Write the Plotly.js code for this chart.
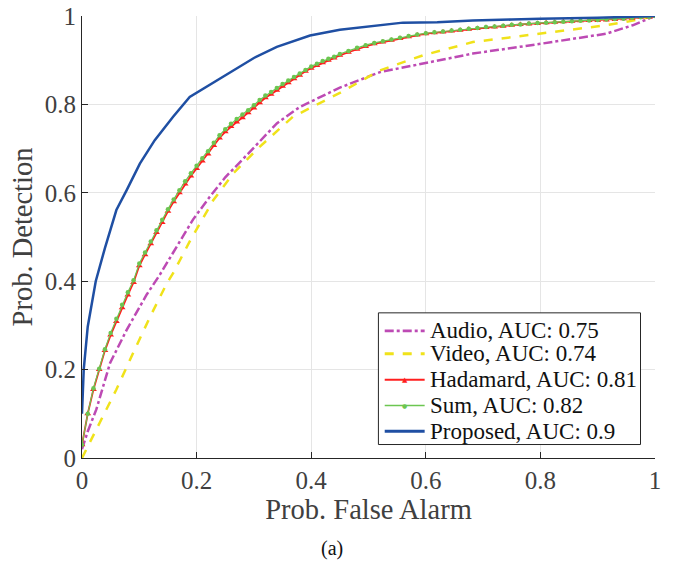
<!DOCTYPE html>
<html><head><meta charset="utf-8">
<script src="https://cdn.plot.ly/plotly-3.0.1.min.js"></script>
<style>body{margin:0;padding:0;background:#fff}#plot{width:673px;height:561px}</style>
</head><body><div id="plot"></div>
<script>
// Series names
var seriesNames = ["Audio, AUC: 0.75", "Video, AUC: 0.74", "Hadamard, AUC: 0.81", "Sum, AUC: 0.82", "Proposed, AUC: 0.9"];
var seriesColors = ["#BD4AB4", "#F0E21A", "#FF1F1F", "#6CC651", "#1F4FA3"];
var seriesDash = ["dashdot", "dash", "solid", "solid", "solid"];
var seriesWidth = [2.5, 2.5, 1.8, 1.2, 2.5];

// Audio
var audioX = [0, 0.01, 0.025, 0.049, 0.078, 0.113, 0.136, 0.162, 0.194, 0.223, 0.25, 0.28, 0.31, 0.34, 0.38, 0.45, 0.52, 0.595, 0.682, 0.80, 0.87, 0.915, 0.961, 1.0];
var audioY = [0.02, 0.06, 0.11, 0.215, 0.29, 0.37, 0.415, 0.472, 0.54, 0.591, 0.635, 0.675, 0.715, 0.757, 0.794, 0.838, 0.873, 0.892, 0.915, 0.937, 0.95, 0.96, 0.979, 1.0];

// Video
var videoX = [0, 0.031, 0.06, 0.089, 0.119, 0.148, 0.159, 0.188, 0.229, 0.264, 0.287, 0.31, 0.368, 0.415, 0.45, 0.52, 0.595, 0.682, 0.80, 0.915, 0.955, 1.0];
var videoY = [0, 0.079, 0.155, 0.237, 0.32, 0.395, 0.418, 0.49, 0.583, 0.644, 0.673, 0.704, 0.772, 0.802, 0.826, 0.877, 0.911, 0.941, 0.96, 0.979, 0.988, 1.0];

// Hadamard and Sum share the same false alarm grid
var fusionX = [0, 0.01, 0.02, 0.03, 0.04, 0.05, 0.06, 0.07, 0.08, 0.09, 0.10,
  0.11, 0.12, 0.13, 0.14, 0.15, 0.16, 0.17, 0.18, 0.19, 0.20, 0.21, 0.22, 0.23, 0.24, 0.25, 0.26, 0.27, 0.28, 0.29, 0.30,
  0.31, 0.32, 0.33, 0.34, 0.35, 0.36, 0.37, 0.38, 0.39, 0.40, 0.41, 0.42, 0.43, 0.44, 0.45,
  0.465, 0.48, 0.495, 0.51, 0.525, 0.54, 0.555, 0.57, 0.585, 0.60, 0.615, 0.63, 0.645, 0.66, 0.675, 0.69, 0.705, 0.72, 0.735, 0.75,
  0.765, 0.78, 0.795, 0.81, 0.825, 0.84, 0.855, 0.87, 0.885, 0.90, 0.915, 0.93, 0.945, 0.96, 0.975, 0.99, 1.0];
var hadamardY = [0.03, 0.10, 0.155, 0.20, 0.243, 0.278, 0.309, 0.340, 0.369, 0.397, 0.435,
  0.46, 0.485, 0.51, 0.533, 0.558, 0.58, 0.60, 0.62, 0.638, 0.655, 0.672, 0.688, 0.707, 0.724, 0.738, 0.75, 0.76, 0.77, 0.781, 0.792,
  0.804, 0.815, 0.823, 0.832, 0.841, 0.849, 0.858, 0.866, 0.875, 0.882, 0.888, 0.894, 0.90, 0.905, 0.911,
  0.918, 0.925, 0.931, 0.937, 0.941, 0.945, 0.949, 0.953, 0.957, 0.960, 0.962, 0.964, 0.966, 0.968, 0.970, 0.972, 0.974, 0.975, 0.977, 0.979,
  0.981, 0.982, 0.983, 0.985, 0.986, 0.987, 0.988, 0.989, 0.99, 0.99, 0.991, 0.992, 0.994, 0.995, 0.997, 0.998, 1.0];
var sumY = [0.03, 0.10, 0.158, 0.202, 0.246, 0.283, 0.315, 0.347, 0.375, 0.402, 0.44,
  0.465, 0.49, 0.515, 0.539, 0.563, 0.585, 0.606, 0.626, 0.644, 0.661, 0.678, 0.694, 0.713, 0.73, 0.744, 0.756, 0.767, 0.777, 0.787, 0.798,
  0.81, 0.82, 0.828, 0.837, 0.846, 0.854, 0.862, 0.87, 0.878, 0.886, 0.892, 0.898, 0.903, 0.908, 0.914,
  0.921, 0.928, 0.934, 0.939, 0.943, 0.947, 0.951, 0.955, 0.958, 0.961, 0.963, 0.965, 0.967, 0.969, 0.971, 0.973, 0.975, 0.976, 0.978, 0.98,
  0.981, 0.983, 0.984, 0.985, 0.986, 0.987, 0.988, 0.989, 0.99, 0.991, 0.992, 0.993, 0.994, 0.996, 0.997, 0.998, 1.0];

// Proposed
var proposedX = [0, 0.003, 0.01, 0.017, 0.024, 0.04, 0.06, 0.078, 0.101, 0.127, 0.159, 0.188, 0.23, 0.264, 0.30, 0.34, 0.37, 0.398, 0.45, 0.50, 0.56, 0.62, 0.682, 0.75, 0.80, 0.90, 1.0];
var proposedY = [0.1, 0.2, 0.297, 0.35, 0.40, 0.475, 0.561, 0.606, 0.666, 0.719, 0.772, 0.817, 0.85, 0.877, 0.905, 0.93, 0.943, 0.956, 0.969, 0.977, 0.985, 0.986, 0.99, 0.992, 0.994, 0.996, 1.0];

var tickVals = [0, 0.2, 0.4, 0.6, 0.8, 1];
var tickText = ["0", "0.2", "0.4", "0.6", "0.8", "1"];

var serif = "Liberation Serif, Times New Roman, serif";

var xs = [audioX, videoX, fusionX, fusionX, proposedX];
var ys = [audioY, videoY, hadamardY, sumY, proposedY];
var markers = [null, null, {symbol: "triangle-up", size: 6, color: seriesColors[2]}, {symbol: "circle", size: 4.5, color: seriesColors[3]}, null];

var traces = [];
for (var i = 0; i < 5; i++) {
  var t = {x: xs[i], y: ys[i], name: seriesNames[i], mode: markers[i] ? "lines+markers" : "lines",
    line: {color: seriesColors[i], width: seriesWidth[i], dash: seriesDash[i]}};
  if (markers[i]) t.marker = markers[i];
  traces.push(t);
}

// Legend drawn in paper coordinates (compact rows like the original)
var legX0 = 0.5173, legX1 = 0.9747, legY0 = 0.0305, legY1 = 0.3284;
var rowY = [0.2878, 0.2359, 0.1772, 0.1185, 0.0605];
var sampleX0 = 0.5283, sampleX1 = 0.598, textX = 0.6033;

var shapes = [{type: "rect", xref: "paper", yref: "paper", x0: legX0, x1: legX1, y0: legY0, y1: legY1,
  line: {color: "#262626", width: 1}, fillcolor: "#fff", layer: "above"}];
var annotations = [];
for (var k = 0; k < 5; k++) {
  shapes.push({type: "line", xref: "paper", yref: "paper", x0: sampleX0, x1: sampleX1, y0: rowY[k], y1: rowY[k],
    line: {color: seriesColors[k], width: seriesWidth[k] + 0.3, dash: seriesDash[k]}, layer: "above"});
  annotations.push({text: seriesNames[k], xref: "paper", yref: "paper", x: textX, y: rowY[k],
    xanchor: "left", yanchor: "middle", showarrow: false, font: {family: serif, size: 23, color: "#111"}});
}
annotations.push({text: "▲", xref: "paper", yref: "paper", x: (sampleX0 + sampleX1) / 2, y: rowY[2], xanchor: "center", yanchor: "middle",
  showarrow: false, font: {family: "DejaVu Sans", size: 7, color: seriesColors[2]}});
annotations.push({text: "●", xref: "paper", yref: "paper", x: (sampleX0 + sampleX1) / 2, y: rowY[3], xanchor: "center", yanchor: "middle",
  showarrow: false, font: {family: "DejaVu Sans", size: 6, color: seriesColors[3]}});
annotations.push({text: "(a)", xref: "paper", yref: "paper", x: 0.436, y: -0.2045, yanchor: "middle", xanchor: "center",
  showarrow: false, font: {family: serif, size: 20, color: "#111"}});

var axisCommon = {
  range: [0, 1], tickvals: tickVals, ticktext: tickText,
  ticks: "inside", ticklen: 6, tickwidth: 1, tickcolor: "#262626",
  showline: true, linecolor: "#262626", linewidth: 1,
  showgrid: true, gridcolor: "#E5E5E5", gridwidth: 1,
  zeroline: false, mirror: false,
  tickfont: {family: serif, size: 25, color: "#404040"}
};

var layout = {
  width: 673, height: 561,
  margin: {l: 82, r: 17.5, t: 15.5, b: 102.5},
  paper_bgcolor: "#fff", plot_bgcolor: "#fff",
  showlegend: false,
  xaxis: Object.assign({}, axisCommon, {
    title: {text: "Prob. False Alarm", font: {family: serif, size: 28.5, color: "#404040"}, standoff: 4}
  }),
  yaxis: Object.assign({}, axisCommon, {
    title: {text: "Prob. Detection", font: {family: serif, size: 28.5, color: "#404040"}, standoff: 3}
  }),
  shapes: shapes,
  annotations: annotations
};

Plotly.newPlot("plot", traces, layout, {displayModeBar: false, staticPlot: true});
</script>
</body></html>
